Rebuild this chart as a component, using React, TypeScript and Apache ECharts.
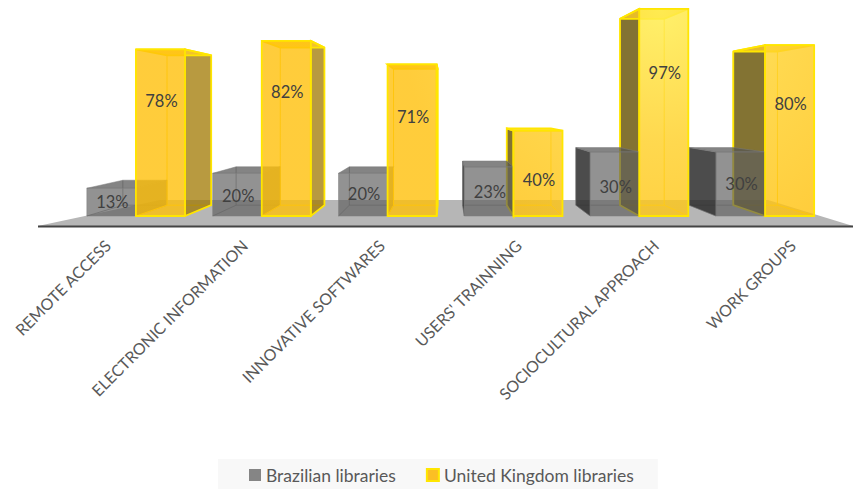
import React, { useEffect, useRef } from "react";
import * as echarts from "echarts";

const categories = [
  "REMOTE ACCESS",
  "ELECTRONIC INFORMATION",
  "INNOVATIVE SOFTWARES",
  "USERS' TRAINNING",
  "SOCIOCULTURAL APPROACH",
  "WORK GROUPS",
];
const brazilian = [13, 20, 20, 23, 30, 30];
const unitedKingdom = [78, 82, 71, 40, 97, 80];

// Layout only: how far each value label sits below its bar's front top edge (px).
const brazilLabelDrop = [14, 23, 21, 25, 35, 32];
const ukLabelDrop = [52, 51, 53, 49, 64, 59];

const VANISH_X = 447;
const VANISH_Y = 108;
const DEPTH = 0.1;
const BAR_RATIO = 0.39;
const FONT = "Lato, 'Open Sans', sans-serif";

const back = (p: number[]) => [p[0] + (VANISH_X - p[0]) * DEPTH, p[1] + (VANISH_Y - p[1]) * DEPTH];

type Look = {
  front: any;
  top: string;
  sideL: string;
  sideR: string;
  edge: string;
  edgeW: number;
  inner: string;
  zBack: number;
  zFront: number;
};

const makeRender = (look: Look, side: -1 | 1, drops: number[]) => (params: any, api: any) => {
  const i = api.value(0);
  const val = api.value(1);
  const band = api.size([1, 0])[0];
  const w = band * BAR_RATIO;
  const c = api.coord([i, val]);
  const base = api.coord([i, 0]);
  const x0 = side < 0 ? c[0] - w : c[0];
  const x1 = x0 + w;
  const yT = c[1];
  const yB = base[1];
  const fTL = [x0, yT], fTR = [x1, yT], fBL = [x0, yB], fBR = [x1, yB];
  const bTL = back(fTL), bTR = back(fTR), bBL = back(fBL), bBR = back(fBR);
  const children: any[] = [];
  const poly = (points: number[][], fill: any, z2: number, stroke = look.edge, lineWidth = look.edgeW) => ({
    type: "polygon",
    shape: { points },
    style: { fill, stroke, lineWidth, lineJoin: "miter" },
    z2,
  });
  const line = (a: number[], b: number[], z2: number) => ({
    type: "line",
    shape: { x1: a[0], y1: a[1], x2: b[0], y2: b[1] },
    style: { stroke: look.inner, lineWidth: 1, fill: "none" },
    z2,
  });
  // hidden edges seen through the translucent front
  children.push(line(bTL, bBL, look.zBack), line(bTR, bBR, look.zBack), line(bBL, bBR, look.zBack));
  children.push(line(fBL, bBL, look.zBack), line(fBR, bBR, look.zBack));
  if (bTL[0] < x0) children.push(poly([fTL, bTL, bBL, fBL], look.sideL, look.zBack));
  if (bTR[0] > x1) children.push(poly([fTR, bTR, bBR, fBR], look.sideR, look.zBack));
  children.push(poly([fTL, fTR, bTR, bTL], look.top, look.zFront));
  children.push(poly([fTL, fTR, fBR, fBL], look.front, look.zFront));
  children.push({
    type: "text",
    z2: 10,
    style: {
      text: val + "%",
      x: (x0 + x1) / 2 + 1,
      y: yT + drops[i],
      align: "center",
      verticalAlign: "middle",
      fill: "#404040",
      font: `16.5px ${FONT}`,
    },
  });
  return { type: "group", children };
};

const grayLook: Look = {
  front: "rgba(95,95,95,0.68)",
  top: "rgba(85,85,85,0.72)",
  sideL: "rgba(45,45,45,0.85)",
  sideR: "rgba(70,70,70,0.7)",
  edge: "rgba(125,125,125,0.5)",
  edgeW: 1,
  inner: "rgba(110,110,110,0.6)",
  zBack: 1,
  zFront: 3,
};

const ukLook: Look = {
  front: {
    type: "radial",
    x: 660,
    y: 10,
    r: 260,
    global: true,
    colorStops: [
      { offset: 0, color: "rgba(255,238,80,0.85)" },
      { offset: 0.5, color: "rgba(255,208,40,0.82)" },
      { offset: 1, color: "rgba(255,192,10,0.8)" },
    ],
  },
  top: "rgba(255,205,40,0.8)",
  sideL: "rgba(100,80,0,0.8)",
  sideR: "rgba(160,120,0,0.75)",
  edge: "#ffe600",
  edgeW: 1.8,
  inner: "rgba(255,212,0,0.9)",
  zBack: 2,
  zFront: 4,
};

export default function App() {
  const ref = useRef<HTMLDivElement>(null);
  useEffect(() => {
    document.body.style.margin = "0";
    const chart = echarts.init(ref.current!, undefined, { renderer: "svg" });
    chart.setOption({
      animation: false,
      backgroundColor: "#ffffff",
      grid: [
        { left: 73, width: 755, top: 2.5, height: 213.5 },
        { left: 39, width: 822, top: 225.5, height: 1, outerBoundsMode: "none" },
      ],
      xAxis: [
        { type: "category", gridIndex: 0, data: categories, show: false },
        {
          type: "category",
          gridIndex: 1,
          data: categories,
          axisLine: { show: false },
          axisTick: { show: false },
          axisLabel: {
            interval: 0,
            rotate: 45,
            margin: 16,
            color: "#595959",
            fontFamily: FONT,
            fontSize: 16,
          },
        },
      ],
      yAxis: [
        { type: "value", gridIndex: 0, min: 0, max: 100, show: false },
        { type: "value", gridIndex: 1, min: 0, max: 100, show: false },
      ],
      legend: {
        left: 218,
        top: 459,
        padding: [7, 24, 7, 31],
        backgroundColor: "#f8f8f8",
        itemWidth: 12,
        itemHeight: 12,
        itemGap: 30,
        icon: "rect",
        textStyle: { color: "#595959", fontFamily: FONT, fontSize: 17.5 },
        data: ["Brazilian libraries", "United Kingdom libraries"],
      },
      graphic: [
        {
          type: "polygon",
          z: 0,
          shape: { points: [[38, 226], [160, 200], [768, 200], [853, 226]] },
          style: { fill: "#b6b6b6" },
        },
        {
          type: "line",
          z: 1,
          shape: { x1: 38, y1: 226.5, x2: 853, y2: 226.5 },
          style: { stroke: "#444444", lineWidth: 2 },
        },
      ],
      series: [
        {
          name: "Brazilian libraries",
          type: "custom",
          xAxisIndex: 0,
          yAxisIndex: 0,
          z: 3,
          itemStyle: { color: "#858585" },
          renderItem: makeRender(grayLook, -1, brazilLabelDrop),
          encode: { x: 0, y: 1 },
          data: brazilian.map((v, i) => [i, v]),
        },
        {
          name: "United Kingdom libraries",
          type: "custom",
          xAxisIndex: 0,
          yAxisIndex: 0,
          z: 3,
          itemStyle: { color: "#fbbf24", borderColor: "#ffe600", borderWidth: 2 },
          renderItem: makeRender(ukLook, 1, ukLabelDrop),
          encode: { x: 0, y: 1 },
          data: unitedKingdom.map((v, i) => [i, v]),
        },
      ],
    });
    return () => chart.dispose();
  }, []);
  return <div ref={ref} style={{ width: 853, height: 489 }} />;
}
